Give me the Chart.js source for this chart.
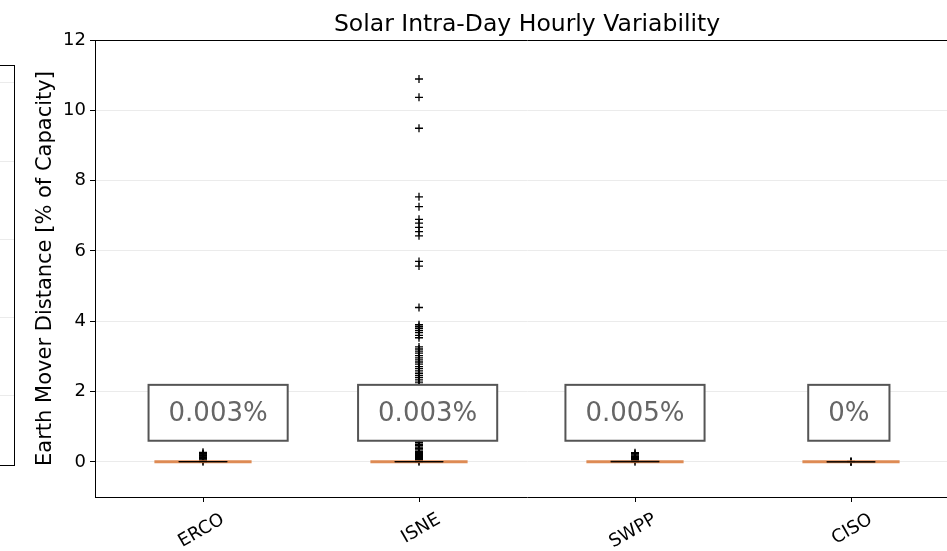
<!DOCTYPE html>
<html>
<head>
<meta charset="utf-8">
<script src="https://cdn.jsdelivr.net/npm/chart.js@4.4.1/dist/chart.umd.min.js"></script>
<style>
  html, body { margin: 0; padding: 0; background: #fff; overflow: hidden; width: 947px; height: 551px; }
  #side { position: absolute; left: -20px; top: 64px; }
  #main { position: absolute; left: 0; top: 0; }
</style>
</head>
<body>
<canvas id="side" width="36" height="403"></canvas>
<canvas id="main" width="1000" height="551"></canvas>
<script>
/* global Chart */

// ---- data ----
const regions = ["ERCO", "ISNE", "SWPP", "CISO"];
const medians = [0, 0, 0, 0];
const q1 = [0, 0, 0, 0];
const q3 = [0.004, 0.003, 0.006, 0];
const whiskLo = [0, 0, 0, 0];
const whiskHi = [0.01, 0.008, 0.015, 0];

const fliersERCO = [0, 0.03, 0.05, 0.08, 0.1, 0.12, 0.14, 0.16, 0.18, 0.2, 0.22, 0.24, 0.27];
const fliersISNE = [
  10.89, 10.37, 9.49, 7.54, 7.26, 6.9, 6.79, 6.67, 6.55, 6.43, 5.7, 5.57, 4.39,
  3.9, 3.85, 3.8, 3.74, 3.68, 3.6, 3.53, 3.27, 3.21, 3.15, 3.09, 3.02, 2.96, 2.9,
  2.84, 2.78, 2.71, 2.65, 2.59, 2.52, 2.46, 2.4, 2.33, 2.27, 2.2, 2.1, 2.0, 1.9,
  1.8, 1.7, 1.6, 1.5, 1.4, 1.3, 1.2, 1.1, 1.0, 0.92, 0.85, 0.78, 0.72, 0.66, 0.6,
  0.55, 0.5, 0.46, 0.42, 0.38, 0.34, 0.3, 0.27, 0.24, 0.21, 0.18, 0.15, 0.12,
  0.09, 0.06, 0.03, 0
];
const fliersSWPP = [0, 0.04, 0.07, 0.1, 0.12, 0.15, 0.17, 0.2, 0.23, 0.26];
const fliersCISO = [0, 0.005, 0.01];
const fliers = [fliersERCO, fliersISNE, fliersSWPP, fliersCISO];

const shareLabels = ["0.003%", "0.003%", "0.005%", "0%"];
const yTicks = [0, 2, 4, 6, 8, 10, 12];
const xTicks = [1, 2, 3, 4];
const sideTicks = [0, 1, 2, 3, 4];

Chart.defaults.font.family = '"DejaVu Sans", sans-serif';
Chart.defaults.color = "#000";

const BOX_W = 0.45;

// horizontal segments centred on each box position
function hSegs(vals, half) {
  const pts = [];
  vals.forEach((v, i) => {
    pts.push({ x: i + 1 - half, y: v }, { x: i + 1 + half, y: v }, { x: i + 1, y: null });
  });
  return pts;
}

function vSegs(from, to) {
  const pts = [];
  from.forEach((v, i) => {
    pts.push({ x: i + 1, y: v }, { x: i + 1, y: to[i] }, { x: i + 1.5, y: null });
  });
  return pts;
}

const flierPts = [];
fliers.forEach((arr, i) => arr.forEach((v) => flierPts.push({ x: i + 1, y: v })));

const lineDs = (data, color, width) => ({
  data,
  borderColor: color,
  borderWidth: width,
  pointRadius: 0,
  spanGaps: false,
});

const frame = {
  id: "frame",
  afterDraw(chart) {
    const a = chart.chartArea;
    const ctx = chart.ctx;
    ctx.save();
    ctx.strokeStyle = "#000";
    ctx.lineWidth = 1;
    ctx.strokeRect(a.left + 0.5, a.top + 0.5, a.width - 1, a.height - 1);
    ctx.restore();
  },
};

const shareBoxes = {
  id: "shareBoxes",
  afterDatasetsDraw(chart, args, opts) {
    const { ctx } = chart;
    const x = chart.scales.x;
    const y = chart.scales.y;
    ctx.save();
    ctx.font = '26px "DejaVu Sans"';
    ctx.textAlign = "center";
    ctx.textBaseline = "middle";
    shareLabels.forEach((t, i) => {
      const cx = x.getPixelForValue(i + 1 + opts.shift[i]);
      const top = y.getPixelForValue(opts.top);
      const bot = y.getPixelForValue(opts.bottom);
      const w = ctx.measureText(t).width + 2 * opts.padX;
      ctx.fillStyle = "#fff";
      ctx.fillRect(cx - w / 2, top, w, bot - top);
      ctx.lineWidth = 2;
      ctx.strokeStyle = "#555";
      ctx.strokeRect(cx - w / 2, top, w, bot - top);
      ctx.fillStyle = "#666";
      ctx.fillText(t, cx, (top + bot) / 2 + 1);
    });
    ctx.restore();
  },
};

// neighbouring panel, mostly cut off at the left edge
new Chart(document.getElementById("side"), {
  type: "line",
  data: { datasets: [] },
  options: {
    responsive: false,
    animation: false,
    layout: { padding: 1 },
    plugins: { legend: { display: false }, tooltip: { enabled: false } },
    scales: {
      x: { type: "linear", display: false, min: 0, max: 1 },
      y: {
        min: -0.9,
        max: 4.23,
        afterBuildTicks: (s) => { s.ticks = sideTicks.map((v) => ({ value: v })); },
        afterFit: (s) => { s.width = 0; },
        ticks: { display: false },
        grid: { color: "#ebebeb", drawTicks: false },
        border: { display: false },
      },
    },
  },
  plugins: [frame],
});

new Chart(document.getElementById("main"), {
  type: "line",
  data: {
    datasets: [
      lineDs(vSegs(q1, whiskLo), "#000", 1),
      lineDs(vSegs(q3, whiskHi), "#000", 1),
      lineDs(hSegs(whiskLo, BOX_W / 4), "#000", 1),
      lineDs(hSegs(whiskHi, BOX_W / 4), "#000", 1),
      lineDs(hSegs(medians, BOX_W / 2), "rgba(219,128,66,0.9)", 3),
      {
        data: flierPts,
        showLine: false,
        pointStyle: "cross",
        pointRadius: 4,
        pointBorderWidth: 1.3,
        pointBorderColor: "#000",
        borderColor: "#000",
      },
    ],
  },
  options: {
    responsive: false,
    animation: false,
    layout: { padding: { left: 0, right: 41, top: 0, bottom: 0 } },
    plugins: {
      legend: { display: false },
      tooltip: { enabled: false },
      shareBoxes: { shift: [0.07, 0.04, 0, -0.01], top: 2.19, bottom: 0.6, padX: 20 },
    },
    scales: {
      x: {
        type: "linear",
        min: 0.5,
        max: 4.5,
        afterBuildTicks: (s) => { s.ticks = xTicks.map((v) => ({ value: v })); },
        afterFit: (s) => { s.height = 54; },
        ticks: {
          callback: (v) => regions[v - 1],
          minRotation: 30,
          maxRotation: 30,
          labelOffset: 20,
          padding: 7,
          font: { size: 18 },
          color: "#000",
        },
        grid: { drawOnChartArea: false, drawTicks: true, tickLength: 5, color: "#000" },
        border: { color: "#000", width: 1 },
      },
      xTop: {
        type: "linear",
        position: "top",
        min: 0.5,
        max: 4.5,
        afterFit: (s) => { s.height = 40; },
        ticks: { display: false },
        grid: { display: false, drawTicks: false },
        border: { display: true, color: "#000", width: 1 },
        title: {
          display: true,
          text: "Solar Intra-Day Hourly Variability",
          color: "#000",
          font: { size: 23.5 },
          padding: { top: 11, bottom: 0 },
        },
      },
      y: {
        min: -1,
        max: 12,
        afterBuildTicks: (s) => { s.ticks = yTicks.map((v) => ({ value: v })); },
        afterFit: (s) => { s.width = 95; },
        ticks: { font: { size: 18 }, color: "#000", padding: 4 },
        grid: { color: "#ebebeb", tickColor: "#000", tickLength: 5, drawTicks: true },
        border: { color: "#000", width: 1 },
        title: {
          display: true,
          text: "Earth Mover Distance [% of Capacity]",
          font: { size: 21 },
          color: "#000",
          padding: { top: 33 },
        },
      },
    },
  },
  plugins: [shareBoxes],
});
</script>
</body>
</html>
